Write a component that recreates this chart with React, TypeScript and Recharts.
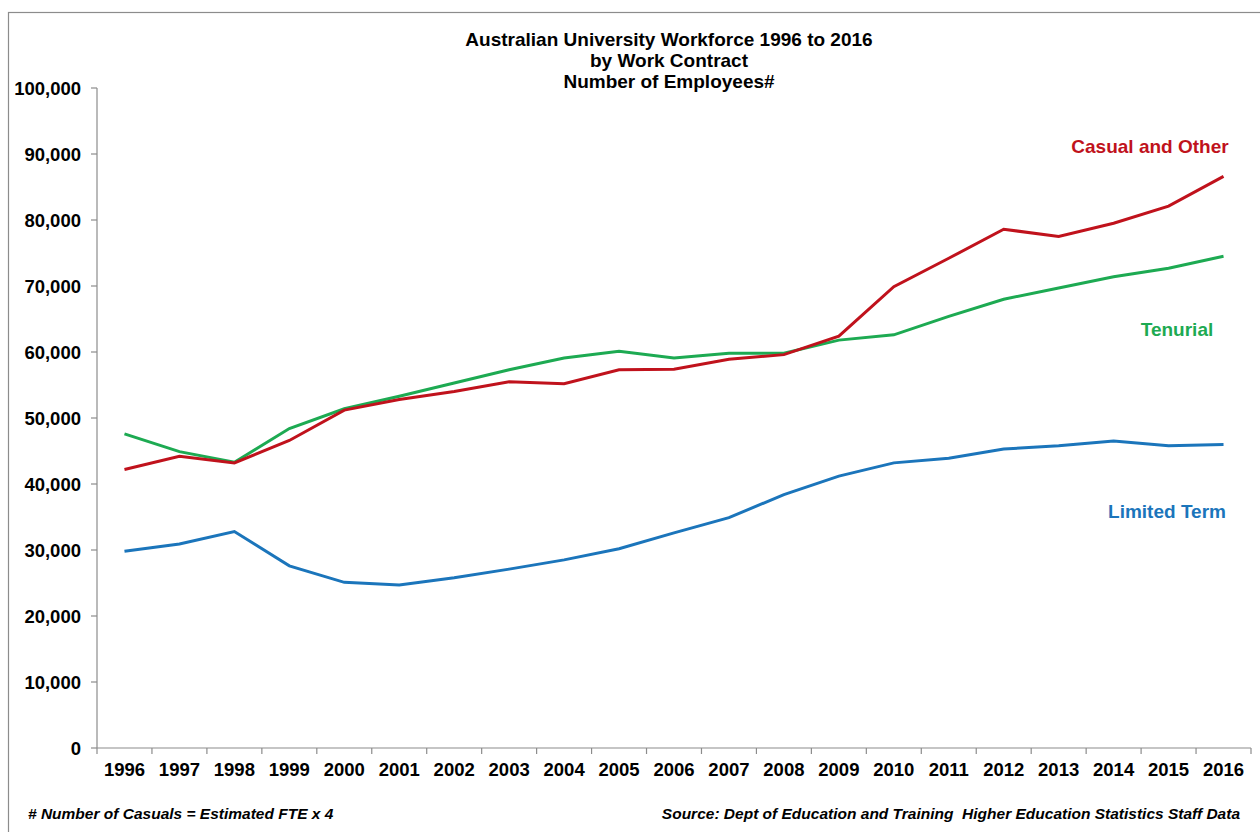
import React from 'react';
import { LineChart, Line, XAxis, YAxis } from 'recharts';

const years = ['1996','1997','1998','1999','2000','2001','2002','2003','2004','2005','2006','2007','2008','2009','2010','2011','2012','2013','2014','2015','2016'];
const casual = [42200,44200,43200,46600,51200,52800,54000,55500,55200,57300,57400,58900,59600,62400,69900,74200,78600,77500,79500,82100,86600];
const tenurial = [47600,44900,43300,48400,51400,53300,55300,57300,59100,60100,59100,59800,59800,61800,62600,65400,68000,69700,71400,72700,74500];
const limited = [29800,30900,32800,27600,25100,24700,25800,27100,28500,30200,32600,34900,38400,41200,43200,43900,45300,45800,46500,45800,46000];
const yTicks = [0,10000,20000,30000,40000,50000,60000,70000,80000,90000,100000];

const titleLines = ['Australian University Workforce 1996 to 2016', 'by Work Contract', 'Number of Employees#'];
const footLeft = '# Number of Casuals = Estimated FTE x 4';
const footRight = 'Source: Dept of Education and Training  Higher Education Statistics Staff Data';

const data = years.map((y, i) => ({ year: y, casual: casual[i], tenurial: tenurial[i], limited: limited[i] }));

const FONT = '"Liberation Sans", Arial, sans-serif';
const RED = '#C0121C';
const GREEN = '#1DAA52';
const BLUE = '#1B75BB';
const AXIS = '#8C8C8C';
const TICK_MARGIN = 15;
const TICK_LEN = 6;

function YearTick(props: any) {
  const { x, y, payload, index } = props;
  const off = payload && typeof payload.offset === 'number' ? payload.offset : 0;
  const axisY = y - TICK_MARGIN;
  const isLast = index === years.length - 1;
  return (
    <g>
      {off > 0 && <line x1={x - off} x2={x - off} y1={axisY} y2={axisY + TICK_LEN} stroke={AXIS} strokeWidth={1.2} />}
      {off > 0 && isLast && <line x1={x + off} x2={x + off} y1={axisY} y2={axisY + TICK_LEN} stroke={AXIS} strokeWidth={1.2} />}
      <text x={x} y={y} dy="0.71em" textAnchor="middle" fill="#000" fontSize={18.5} fontWeight={700} fontFamily={FONT}>
        {payload.value}
      </text>
    </g>
  );
}

export default function App() {
  return (
    <div style={{ position: 'absolute', left: 0, top: 0, width: 1260, height: 832, background: '#fff', fontFamily: FONT }}>
      <LineChart width={1260} height={832} data={data} margin={{ top: 88, right: 9, bottom: 0, left: 12 }}>
        <XAxis dataKey="year" scale="band" height={84} tickSize={0} tickMargin={TICK_MARGIN} tickLine={false}
          axisLine={{ stroke: AXIS, strokeWidth: 1.2 }} tick={<YearTick />} interval={0} />
        <YAxis width={85} domain={[0, 100000]} ticks={yTicks} tickSize={6} tickMargin={10}
          axisLine={{ stroke: AXIS, strokeWidth: 1.2 }} tickLine={{ stroke: AXIS, strokeWidth: 1.2 }}
          tickFormatter={(v: number) => v.toLocaleString('en-US')}
          tick={{ fill: '#000', fontSize: 18.5, fontWeight: 700, fontFamily: FONT }} />
        <Line dataKey="tenurial" stroke={GREEN} strokeWidth={3} dot={false} isAnimationActive={false} />
        <Line dataKey="limited" stroke={BLUE} strokeWidth={3} dot={false} isAnimationActive={false} />
        <Line dataKey="casual" stroke={RED} strokeWidth={3} dot={false} isAnimationActive={false} />
      </LineChart>
      <svg width={1260} height={832} style={{ position: 'absolute', left: 0, top: 0, pointerEvents: 'none' }}>
        <rect x={8.5} y={12.5} width={1270} height={840} fill="none" stroke="#8C8C8C" strokeWidth={1.2} />
        {titleLines.map((t, i) => (
          <text key={i} x={669} y={46 + i * 21} textAnchor="middle" fontFamily={FONT} fontWeight={700} fontSize={19} fill="#000">{t}</text>
        ))}
        <text x={1150} y={153} textAnchor="middle" fontFamily={FONT} fontWeight={700} fontSize={19} fill={RED}>Casual and Other</text>
        <text x={1177} y={336} textAnchor="middle" fontFamily={FONT} fontWeight={700} fontSize={19} fill={GREEN}>Tenurial</text>
        <text x={1167} y={518} textAnchor="middle" fontFamily={FONT} fontWeight={700} fontSize={19} fill={BLUE}>Limited Term</text>
        <text x={28} y={819} fontFamily={FONT} fontWeight={700} fontStyle="italic" fontSize={15.5} fill="#000">{footLeft}</text>
        <text x={1240} y={819} textAnchor="end" fontFamily={FONT} fontWeight={700} fontStyle="italic" fontSize={15.5} fill="#000" xmlSpace="preserve">{footRight}</text>
      </svg>
    </div>
  );
}
